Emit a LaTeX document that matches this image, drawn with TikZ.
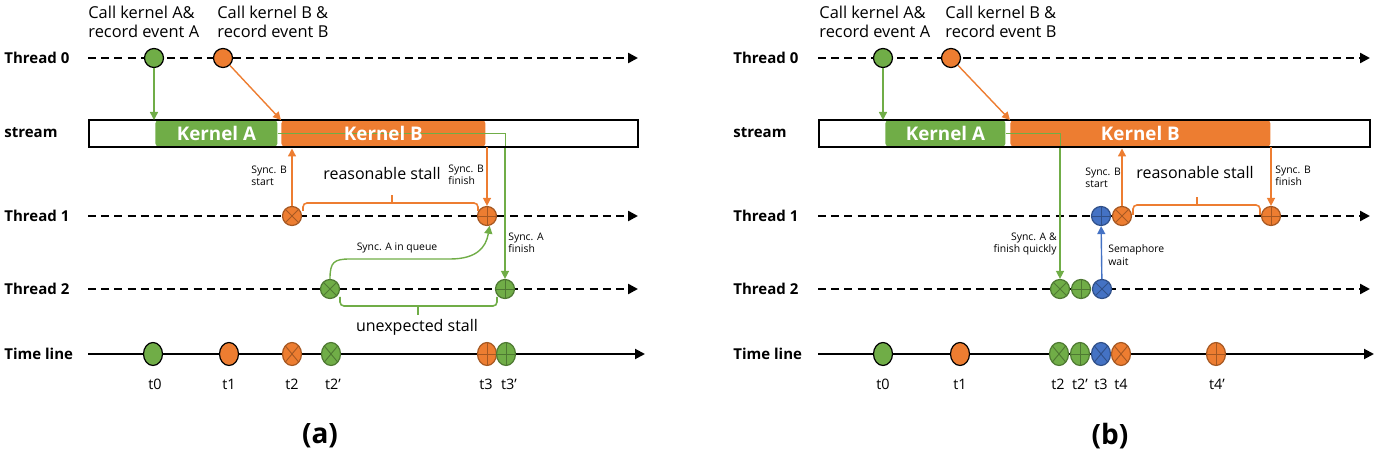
\documentclass[tikz,border=0pt]{standalone}
\usepackage{fontspec}
\setmainfont{Open Sans}
\usetikzlibrary{arrows.meta,shapes.geometric}
\definecolor{gr}{HTML}{70AD47}
\definecolor{orr}{HTML}{ED7D31}
\definecolor{bl}{HTML}{4472C4}
\begin{document}
\begin{tikzpicture}[x=0.5pt,y=-0.5pt,
  lbl/.style={font=\bfseries\fontsize{7.5}{9}\selectfont, anchor=west, inner sep=0},
  call/.style={font=\fontsize{8.2}{9.2}\selectfont, align=left, anchor=north west, inner sep=0},
  small/.style={font=\fontsize{5.2}{6.2}\selectfont, align=left, inner sep=0},
  mid/.style={font=\fontsize{8}{9}\selectfont, inner sep=0},
  tl/.style={font=\fontsize{7.2}{8}\selectfont, inner sep=0},
  captxt/.style={font=\bfseries\fontsize{14}{16}\selectfont, inner sep=0},
  thr/.style={line width=1.2pt, dash pattern=on 4pt off 2.6pt, -{Triangle[length=5pt,width=5pt]}},
  tline/.style={line width=1pt, -{Triangle[length=5pt,width=5pt]}},
  arr/.style={line width=0.7pt, -{Triangle[length=4pt,width=4pt]}},
  ev/.style={circle, minimum size=9.5pt, inner sep=0, line width=0.6pt},
  tev/.style={ellipse, minimum width=9.5pt, minimum height=11.5pt, inner sep=0, line width=0.6pt},
  xm/.style={path picture={\draw[line width=0.45pt, draw=#1] (path picture bounding box.north east) -- (path picture bounding box.south west) (path picture bounding box.north west) -- (path picture bounding box.south east);}},
  pm/.style={path picture={\draw[line width=0.45pt, draw=#1] (path picture bounding box.north) -- (path picture bounding box.south) (path picture bounding box.west) -- (path picture bounding box.east);}},
  F/.style={fill=#1, draw=black},
  X/.style={fill=#1, draw=#1!70!black, xm=#1!70!black},
  P/.style={fill=#1, draw=#1!70!black, pm=#1!70!black},
  kern/.style={rounded corners=1.5pt, anchor=north west, minimum height=13pt, inner sep=0},
  ktext/.style={text=white, inner sep=0, font=\bfseries\fontsize{9.4}{10}\selectfont},
  streambox/.style={draw=black, line width=1pt, anchor=north west, inner sep=0, minimum height=13.5pt},
  brace/.style={line width=0.8pt, rounded corners=2pt}
]
\useasboundingbox (0,0) rectangle (1378,454);

% ================= Panel (a) =================
\node[lbl] (a0l) at (4,58) {Thread 0};
\node[lbl] (asl) at (4,133) {stream};
\node[lbl] (a1l) at (4,216) {Thread 1};
\node[lbl] (a2l) at (4,289) {Thread 2};
\node[lbl] (atl) at (4,354) {Time line};

\coordinate (a0s) at (88,58);  \coordinate (a0e) at (638,58);
\coordinate (a1s) at (88,216); \coordinate (a1e) at (638,216);
\coordinate (a2s) at (88,289); \coordinate (a2e) at (638,289);
\coordinate (ats) at (88,354); \coordinate (ate) at (645,354);
\draw[thr] (a0s) -- (a0e);
\draw[thr] (a1s) -- (a1e);
\draw[thr] (a2s) -- (a2e);
\draw[tline] (ats) -- (ate);

\node[call] (acA) at (88,6) {Call kernel A\&\\record event A};
\node[call] (acB) at (217,6) {Call kernel B \&\\record event B};

\node[kern, fill=gr, minimum width=61pt] (aKA) at (155,120) {};
\node[kern, fill=orr, minimum width=102pt] (aKB) at (281,120) {};
\node[streambox, minimum width=274.5pt] (astr) at (88,119.5) {};
\draw[gr, line width=0.5pt] (aKA.east) -| (505,146);
\node[ktext] (aKAt) at (aKA.center) {Kernel A};
\node[ktext] (aKBt) at (aKB.center) {Kernel B};

\node[ev, F=gr] (a0g) at (154,58) {};
\node[ev, F=orr] (a0o) at (223,58) {};
\node[ev, X=orr] (a1x) at (292,216) {};
\node[ev, P=orr] (a1p) at (487,216) {};
\node[ev, X=gr] (a2x) at (330,289) {};
\node[ev, P=gr] (a2p) at (505,289) {};

\node[tev, F=gr] (at0) at (153,354) {};
\node[tev, F=orr] (at1) at (229,354) {};
\node[tev, X=orr] (at2) at (292,354) {};
\node[tev, X=gr] (at2b) at (331,354) {};
\node[tev, P=orr] (at3) at (487,354) {};
\node[tev, P=gr] (at3b) at (506,354) {};

\node[tl] (lt0) at (155,384) {t0};
\node[tl] (lt1) at (229,384) {t1};
\node[tl] (lt2) at (292,384) {t2};
\node[tl] (lt2b) at (333,384) {t2’};
\node[tl] (lt3) at (486,384) {t3};
\node[tl] (lt3b) at (509,384) {t3’};

\draw[arr, gr] (a0g) -- (a0g |- aKA.north);
\draw[arr, orr] (a0o) -- (aKB.north west);
\draw[arr, gr] (a2p.north |- astr.south) -- (a2p.north);
\draw[arr, orr] (a1x) -- (a1x |- astr.south);
\draw[arr, orr] (a1p |- aKB.south) -- (a1p);
\draw[arr, gr] (a2x.north) .. controls (330,262) and (334,259) .. (350,259) -- (450,259) .. controls (476,259) and (486,248) .. (a1p.-75);

\draw[brace, orr] (303,211) -- (303,203) -- (478,203) -- (478,211);
\draw[brace, orr] (392,203) -- (392,195);
\draw[brace, gr] (340,297) -- (340,306) -- (497,306) -- (497,297);
\draw[brace, gr] (418,306) -- (418,315);

\node[small, anchor=west] (asbs) at (251,176) {Sync. B\\start};
\node[small, anchor=west] (asbf) at (448,175) {Sync. B\\finish};
\node[small, anchor=west] (asaf) at (508,243) {Sync. A\\finish};
\node[small] (asaq) at (397,248) {Sync. A in queue};
\node[mid] (ars) at (382,174) {reasonable stall};
\node[mid] (aus) at (417,327) {unexpected stall};
\node[captxt] (acap) at (320,436) {(a)};

% ================= Panel (b) =================
\node[lbl] (b0l) at (733,58) {Thread 0};
\node[lbl] (bsl) at (733,133) {stream};
\node[lbl] (b1l) at (733,216) {Thread 1};
\node[lbl] (b2l) at (733,289) {Thread 2};
\node[lbl] (btl) at (733,354) {Time line};

\coordinate (b0s) at (818,58);  \coordinate (b0e) at (1370,58);
\coordinate (b1s) at (818,216); \coordinate (b1e) at (1370,216);
\coordinate (b2s) at (818,289); \coordinate (b2e) at (1370,289);
\coordinate (bts) at (818,354); \coordinate (bte) at (1374,354);
\draw[thr] (b0s) -- (b0e);
\draw[thr] (b1s) -- (b1e);
\draw[thr] (b2s) -- (b2e);
\draw[tline] (bts) -- (bte);

\node[call] (bcA) at (819,6) {Call kernel A\&\\record event A};
\node[call] (bcB) at (945,6) {Call kernel B \&\\record event B};

\node[kern, fill=gr, minimum width=60pt] (bKA) at (885,120) {};
\node[kern, fill=orr, minimum width=130pt] (bKB) at (1010,120) {};
\node[streambox, minimum width=275.5pt] (bstr) at (818,119.5) {};
\draw[gr, line width=0.5pt] (bKA.east) -| (1060,146);
\node[ktext] (bKAt) at (bKA.center) {Kernel A};
\node[ktext] (bKBt) at (bKB.center) {Kernel B};

\node[ev, F=gr] (b0g) at (883,58) {};
\node[ev, F=orr] (b0o) at (951,58) {};
\node[ev, P=bl] (b1b) at (1101,216) {};
\node[ev, X=orr] (b1x) at (1122,216) {};
\node[ev, P=orr] (b1p) at (1271,216) {};
\node[ev, X=gr] (b2x) at (1060,289) {};
\node[ev, P=gr] (b2p) at (1081,289) {};
\node[ev, X=bl] (b2b) at (1102,289) {};

\node[tev, F=gr] (bt0) at (883,354) {};
\node[tev, F=orr] (bt1) at (960,354) {};
\node[tev, X=gr] (bt2) at (1059,354) {};
\node[tev, P=gr] (bt2b) at (1080,354) {};
\node[tev, X=bl] (bt3) at (1101,354) {};
\node[tev, X=orr] (bt4) at (1121,354) {};
\node[tev, P=orr] (bt4b) at (1216,354) {};

\node[tl] (mt0) at (883,384) {t0};
\node[tl] (mt1) at (960,384) {t1};
\node[tl] (mt2) at (1058,384) {t2};
\node[tl] (mt2b) at (1080,384) {t2’};
\node[tl] (mt3) at (1101,384) {t3};
\node[tl] (mt4) at (1121,384) {t4};
\node[tl] (mt4b) at (1217,384) {t4’};

\draw[arr, gr] (b0g) -- (b0g |- bKA.north);
\draw[arr, orr] (b0o) -- (bKB.north west);
\draw[arr, gr] (b2x.north |- bstr.south) -- (b2x.north);
\draw[arr, orr] (b1x) -- (b1x |- bstr.south);
\draw[arr, orr] (b1p |- bKB.south) -- (b1p);
\draw[arr, bl] (b2b) -- (b1b);

\draw[brace, orr] (1133,215) -- (1133,205) -- (1260,205) -- (1260,215);
\draw[brace, orr] (1197,205) -- (1197,197);

\node[small, anchor=west] (bsbs) at (1085,178) {Sync. B\\start};
\node[small, anchor=west] (bsbf) at (1275,176) {Sync. B\\finish};
\node[small, anchor=east, align=right] (bsaq) at (1057,244) {Sync. A \&\\finish quickly};
\node[small, anchor=west] (bsem) at (1108,255) {Semaphore\\wait};
\node[mid] (brs) at (1195,173) {reasonable stall};
\node[captxt] (bcap) at (1110,436) {(b)};
\end{tikzpicture}
\end{document}
